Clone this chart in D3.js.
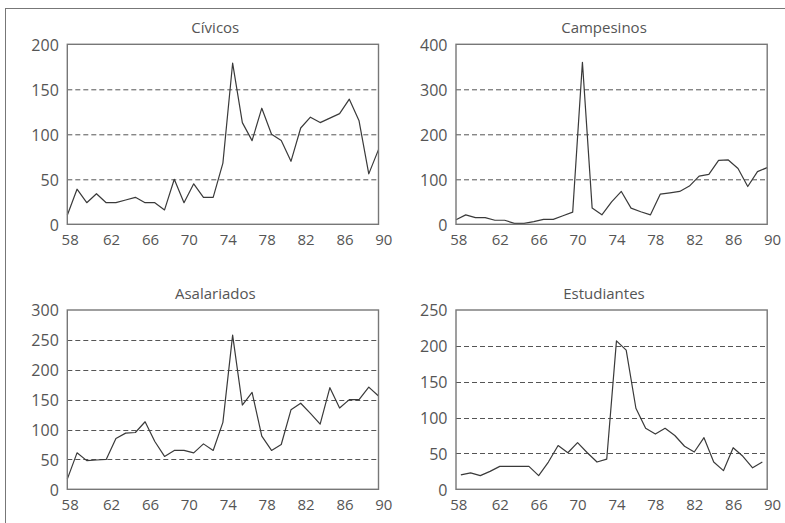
<!DOCTYPE html>
<html>
    <head>
        <title>Paros y protestas</title>
        <meta charset="utf-8">
        <style>
            body { margin: 0; background: #fff; }
            text { font-family: "Open Sans", "Noto Sans", sans-serif; fill: #555; }
        </style>
    </head>
    <body>
        <script src="https://cdnjs.cloudflare.com/ajax/libs/d3/7.8.5/d3.min.js"></script>
        <script>

            // years 1958-1990
            var years = [58, 59, 60, 61, 62, 63, 64, 65, 66, 67, 68, 69, 70, 71, 72, 73, 74,
                         75, 76, 77, 78, 79, 80, 81, 82, 83, 84, 85, 86, 87, 88, 89, 90];
            var yearTicks = [58, 62, 66, 70, 74, 78, 82, 86, 90];

            var civicos = [10, 39, 24, 34, 24, 24, 27, 30, 24, 24, 16, 50, 24, 45, 30, 30, 68,
                           179, 113, 93, 129, 100, 93, 70, 107, 119, 113, 118, 123, 139, 115, 56, 83];
            var campesinos = [10, 21, 15, 15, 9, 9, 2, 2, 6, 11, 11, 19, 27, 360, 36, 21, 50,
                              73, 36, 28, 21, 67, 70, 73, 85, 107, 111, 142, 143, 124, 84, 117, 126];
            var asalariados = [17, 61, 48, 49, 50, 85, 94, 95, 113, 80, 55, 65, 65, 61, 76, 65, 112,
                               258, 141, 162, 89, 65, 75, 133, 144, 127, 109, 170, 136, 150, 150, 171, 156];
            // 1958-1989, drawn in the middle of each year
            var estudiantes = [20, 23, 19, 25, 32, 32, 32, 32, 19, 38, 61, 51, 65, 51, 38, 42,
                               207, 194, 113, 85, 77, 85, 75, 60, 52, 72, 38, 26, 58, 46, 30, 38];

            var civicosTicks = [0, 50, 100, 150, 200];
            var campesinosTicks = [0, 100, 200, 300, 400];
            var asalariadosTicks = [0, 50, 100, 150, 200, 250, 300];
            var estudiantesTicks = [0, 50, 100, 150, 200, 250];

            var panels = [
                {title: "Cívicos", values: civicos, ticks: civicosTicks, left: 67.3, top: 44.3, height: 180, shift: 0},
                {title: "Campesinos", values: campesinos, ticks: campesinosTicks, left: 456, top: 44.3, height: 180, shift: 0},
                {title: "Asalariados", values: asalariados, ticks: asalariadosTicks, left: 67.3, top: 310, height: 179.3, shift: 0},
                {title: "Estudiantes", values: estudiantes, ticks: estudiantesTicks, left: 456, top: 310, height: 179.3, shift: 0.5}
            ];

            var width = 785;
            var height = 523;
            var plotWidth = 311.2;

            var svg = d3.select("body")
                    .append("svg")
                    .attr("width", width)
                    .attr("height", height);

            // outer frame (only top and left edges are inside the picture)
            svg.append("rect")
                    .attr("x", 5.5)
                    .attr("y", 8.5)
                    .attr("width", width + 10)
                    .attr("height", height + 10)
                    .attr("fill", "none")
                    .attr("stroke", "#777")
                    .attr("stroke-width", 1);

            function drawPanel(p) {
              var g = svg.append("g")
                      .attr("transform", "translate(" + p.left + "," + p.top + ")");

              var x = d3.scaleLinear()
                      .domain([58, 90])
                      .range([0, plotWidth]);
              var slot = plotWidth / 32;

              var y = d3.scaleLinear()
                      .domain([0, d3.max(p.ticks)])
                      .range([p.height, 0]);

              // dashed grid
              g.selectAll("line.grid")
                      .data(p.ticks.slice(1, -1))
                      .enter()
                      .append("line")
                      .attr("class", "grid")
                      .attr("x1", 0)
                      .attr("x2", plotWidth)
                      .attr("y1", function(d) { return Math.round(y(d)) + 0.5; })
                      .attr("y2", function(d) { return Math.round(y(d)) + 0.5; })
                      .attr("stroke", "#555")
                      .attr("stroke-width", 1)
                      .attr("stroke-dasharray", "5,3");

              // y axis
              var yAxis = g.append("g")
                      .call(d3.axisLeft(y).tickValues(p.ticks).tickSize(0).tickPadding(8.5));
              yAxis.select(".domain").remove();
              yAxis.selectAll("text")
                      .attr("font-size", "16px")
                      .attr("fill", "#555")
                      .attr("font-family", null)
                      .attr("dy", "0.36em");

              // x axis, labels sit in the middle of each year
              var xAxis = g.append("g")
                      .attr("transform", "translate(0," + p.height + ")")
                      .call(d3.axisBottom(x).tickValues(yearTicks).tickSize(0).tickPadding(0));
              xAxis.select(".domain").remove();
              xAxis.selectAll("text")
                      .attr("font-size", "15px")
                      .attr("fill", "#555")
                      .attr("font-family", null)
                      .attr("y", 10.5)
                      .attr("dx", function(d) { return d === 58 ? slot / 2 - 2.5 : slot / 2; });

              var line = d3.line()
                      .x(function(d, i) { return x(years[i] + p.shift); })
                      .y(function(d) { return y(d); });

              g.append("path")
                      .datum(p.values)
                      .attr("d", line)
                      .attr("fill", "none")
                      .attr("stroke", "#3a3a3a")
                      .attr("stroke-width", 1.2)
                      .attr("stroke-linejoin", "round");

              // frame
              g.append("rect")
                      .attr("x", 0)
                      .attr("y", 0)
                      .attr("width", plotWidth)
                      .attr("height", p.height)
                      .attr("fill", "none")
                      .attr("stroke", "#777")
                      .attr("stroke-width", 1.4);

              g.append("text")
                      .attr("x", 148)
                      .attr("y", -11)
                      .attr("text-anchor", "middle")
                      .attr("font-size", "15px")
                      .text(p.title);
            }

            panels.forEach(drawPanel);

        </script>
    </body>
</html>
